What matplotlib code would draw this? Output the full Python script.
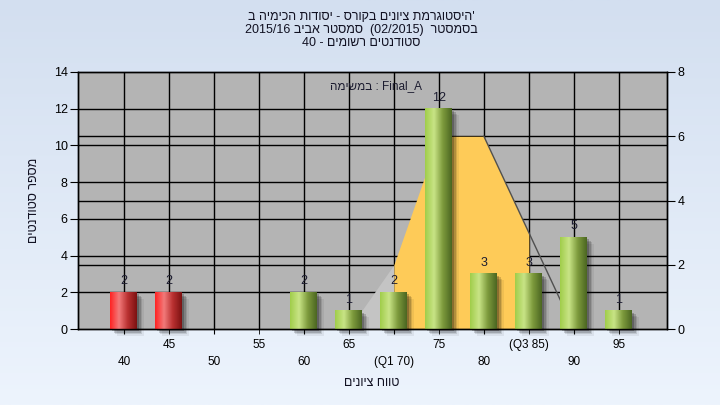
import numpy as np
import matplotlib
matplotlib.use('Agg')
import matplotlib.pyplot as plt
from matplotlib.colors import LinearSegmentedColormap
from matplotlib.patches import Rectangle
import matplotlib.transforms as mtransforms

plt.rcParams['font.family'] = ['Liberation Sans', 'DejaVu Sans']

# ---------------- data ----------------
categories = ['40', '45', '50', '55', '60', '65', '(Q1 70)', '75', '80', '(Q3 85)', '90', '95']
counts = [2, 2, 0, 0, 2, 1, 2, 12, 3, 3, 5, 1]
failing = [True, True, False, False, False, False, False, False, False, False, False, False]

# secondary-axis area (distribution band), by category index
area_idx = [5, 6, 7, 8, 9, 10]
area_vals = [0, 2, 6, 6, 3, 0]
q1_idx = 6
q3_idx = 9

left_ticks = [0, 2, 4, 6, 8, 10, 12, 14]
right_ticks = [0, 2, 4, 6, 8]

# texts (Hebrew written in visual order, as displayed)
title_l1 = "היסטוגרמת ציונים בקורס - יסודות הכימיה ב"[::-1] + "'"
title_l2 = "2015/16 " + "סמסטר אביב"[::-1] + "  (02/2015)  " + "בסמסטר"[::-1]
title_l3 = "40 - " + "סטודנטים רשומים"[::-1]
series_label = "במשימה"[::-1] + " : Final_A"
ylabel = "מספר סטודנטים"[::-1]
xlabel = "טווח ציונים"[::-1]

# ---------------- figure ----------------
fig = plt.figure(figsize=(7.2, 4.05), dpi=100)
bg = fig.add_axes([0, 0, 1, 1], zorder=-10)
bg.axis('off')
grad = np.linspace(0, 1, 256).reshape(-1, 1)
bg.imshow(grad, aspect='auto', origin='upper', extent=[0, 1, 0, 1],
          cmap=LinearSegmentedColormap.from_list('bg', ['#d3dff0', '#edf4fd']))

L, R, T, B = 78 / 720, 667 / 720, 72 / 405, 329 / 405
ax = fig.add_axes([L, 1 - B, R - L, B - T])
ax.set_facecolor('#b4b4b4')
ax2 = ax.twinx()
ax2.patch.set_visible(False)

n = len(categories)
xs = np.arange(n)
ax.set_xlim(-1.02, n + 0.07)
ax.set_ylim(0, 14)
ax2.set_ylim(0, 8)

# grid lines
for v in left_ticks[1:-1]:
    ax.axhline(v, color='black', lw=1, zorder=0.5)
blend = mtransforms.blended_transform_factory(ax.transAxes, ax2.transData)
for v in right_ticks[1:-1]:
    ax.plot([0, 1], [v, v], color='black', lw=1, transform=blend, zorder=0.5)
for x in xs:
    ax.axvline(x, color='black', lw=1, zorder=0.5)

# area band on the secondary axis
ax_i = np.array(area_idx, dtype=float)
av = np.array(area_vals, dtype=float)
m_left = ax_i <= q1_idx
m_mid = (ax_i >= q1_idx) & (ax_i <= q3_idx)
ax.fill_between(ax_i[m_left], 0, av[m_left], color='#c4c4c4', lw=0,
                transform=ax2.transData, zorder=1)
ax.fill_between(ax_i[m_mid], 0, av[m_mid], color='#fecb58', lw=0,
                transform=ax2.transData, zorder=1.1)
pk = int(np.argmax(av[::-1]))
pk = len(av) - 1 - pk
ax.plot(ax_i[pk:], av[pk:], color='#505050', lw=1, transform=ax2.transData, zorder=1.2)

# bars with shadow and gradient
w = 0.6
cm_green = LinearSegmentedColormap.from_list('g', ['#a0cd4a', '#c8e486', '#7d9a3c', '#4b6621'])
cm_red = LinearSegmentedColormap.from_list('r', ['#ff2222', '#f27a7a', '#b83030', '#7c1212'])
hgrad = np.linspace(0, 1, 128).reshape(1, -1)
for x, c, f in zip(xs, counts, failing):
    if c <= 0:
        continue
    for dpx, a in [(2, 0.22), (3.5, 0.16), (5, 0.11), (6.5, 0.06)]:
        tr = ax.transData + mtransforms.ScaledTranslation(dpx / 100, -dpx / 100, fig.dpi_scale_trans)
        ax.add_patch(Rectangle((x - w / 2, 0), w, c, color='black', alpha=a, lw=0,
                               transform=tr, zorder=2, clip_on=False))
    ax.imshow(hgrad, aspect='auto', extent=[x - w / 2, x + w / 2, 0, c],
              cmap=cm_red if f else cm_green, zorder=3, interpolation='bilinear')
    ax.annotate(str(c), (x, c), xytext=(0, 3.5), textcoords='offset points',
                ha='center', va='bottom', fontsize=9, color='#1c1c30', zorder=4)
ax.set_xlim(-1.02, n + 0.07)
ax.set_ylim(0, 14)

# ticks
ax.set_yticks(left_ticks)
ax.tick_params(axis='y', length=6, pad=1.5, labelsize=9, colors='black')
ax2.set_yticks(right_ticks)
ax2.tick_params(axis='y', length=6, pad=1.5, labelsize=9, colors='black')
even = xs[::2]
odd = xs[1::2]
ax.set_xticks(even, [categories[i] for i in even])
ax.set_xticks(odd, [categories[i] for i in odd], minor=True)
ax.tick_params(axis='x', which='major', length=3.5, pad=16, labelsize=8.5)
ax.tick_params(axis='x', which='minor', length=3.5, pad=4, labelsize=8.5)
for sp in list(ax.spines.values()) + list(ax2.spines.values()):
    sp.set_color('black')
    sp.set_linewidth(1)

ax.text((330 - 78) / 589, (329 - 86) / 257, series_label, transform=ax.transAxes,
        ha='left', va='center', fontsize=8.5, color='#1c1c30', zorder=5)

# titles and labels
tx = 361 / 720
for txt, ypx in [(title_l1, 17), (title_l2, 30), (title_l3, 43)]:
    fig.text(tx, 1 - ypx / 405, txt, ha='center', va='center', fontsize=9, color='#111122')
fig.text(34 / 720, 1 - 200 / 405, ylabel, rotation=90, ha='center', va='center',
         fontsize=9, color='#111122')
fig.text(372 / 720, 1 - 383 / 405, xlabel, ha='center', va='center', fontsize=9, color='#111122')

fig.savefig('out.png', dpi=100)
